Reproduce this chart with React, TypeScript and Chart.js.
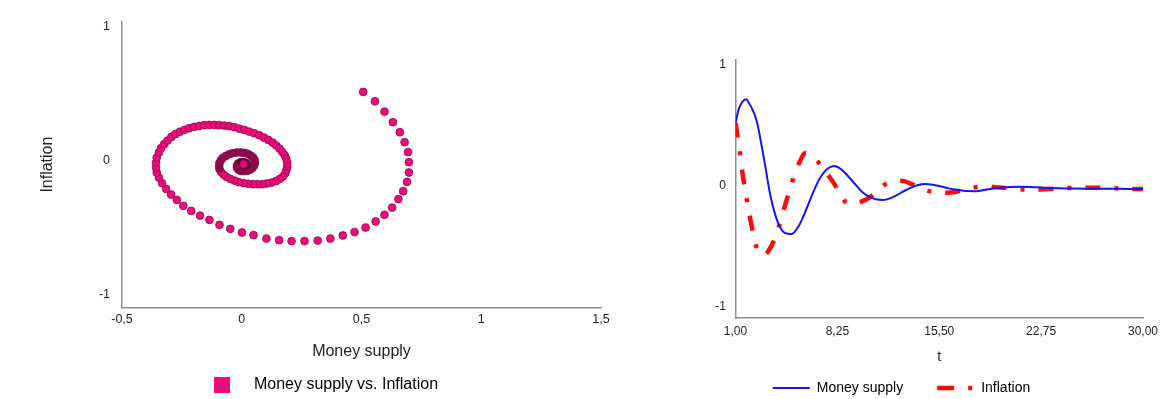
import React, { useEffect, useRef } from 'react';
import { Chart, registerables } from 'chart.js';

Chart.register(...registerables);

// ---------- Data ----------
// Phase plot (left): Money supply (x) vs. Inflation (y)
const spiralMoneySupply = [
  0.507, 0.556, 0.596, 0.631, 0.660, 0.680, 0.694, 0.698, 0.698, 0.690,
  0.674, 0.654, 0.628, 0.596, 0.559, 0.517, 0.471, 0.422, 0.370, 0.317,
  0.262, 0.208, 0.156, 0.103, 0.049, 0.001, -0.048, -0.093, -0.135, -0.174,
  -0.211, -0.244, -0.271, -0.295, -0.316, -0.333, -0.346, -0.355, -0.358, -0.358,
  -0.355, -0.346, -0.337, -0.324, -0.310, -0.294, -0.277, -0.259, -0.239, -0.220,
  -0.199, -0.178, -0.157, -0.136, -0.115, -0.094, -0.073, -0.052, -0.031, -0.010,
  0.010, 0.031, 0.052, 0.073, 0.093, 0.111, 0.129, 0.144, 0.158, 0.169,
  0.179, 0.186, 0.190, 0.190, 0.187, 0.182, 0.172, 0.158, 0.143, 0.125,
  0.105, 0.086, 0.066, 0.047, 0.027, 0.008, -0.012, -0.030, -0.048, -0.064,
  -0.076, -0.087, -0.093, -0.094, -0.093, -0.087, -0.079, -0.066, -0.052, -0.037,
  -0.020, -0.003, 0.012, 0.026, 0.038, 0.048, 0.054, 0.055, 0.052, 0.045,
  0.036, 0.023, 0.009, -0.003, -0.013, -0.020, -0.020, -0.015, -0.005, 0.006,
  0.016, 0.022, 0.018, 0.010, 0.004, 0.006, 0.008,
];
const spiralInflation = [
  0.512, 0.442, 0.365, 0.286, 0.211, 0.137, 0.063, -0.012, -0.089, -0.159,
  -0.228, -0.287, -0.350, -0.404, -0.454, -0.499, -0.533, -0.558, -0.581, -0.596,
  -0.600, -0.600, -0.593, -0.581, -0.555, -0.536, -0.509, -0.479, -0.442, -0.410,
  -0.375, -0.337, -0.293, -0.253, -0.211, -0.168, -0.127, -0.089, -0.052, -0.015,
  0.022, 0.060, 0.092, 0.122, 0.149, 0.176, 0.197, 0.214, 0.229, 0.241,
  0.251, 0.258, 0.264, 0.266, 0.266, 0.264, 0.261, 0.256, 0.249, 0.238,
  0.229, 0.216, 0.204, 0.189, 0.171, 0.154, 0.134, 0.112, 0.089, 0.065,
  0.040, 0.013, -0.015, -0.045, -0.069, -0.094, -0.119, -0.138, -0.153, -0.164,
  -0.171, -0.176, -0.176, -0.176, -0.173, -0.168, -0.161, -0.149, -0.136, -0.121,
  -0.104, -0.084, -0.062, -0.039, -0.017, 0.003, 0.020, 0.035, 0.048, 0.055,
  0.060, 0.060, 0.057, 0.050, 0.037, 0.022, 0.003, -0.017, -0.037, -0.054,
  -0.067, -0.077, -0.079, -0.077, -0.069, -0.054, -0.037, -0.022, -0.012, -0.010,
  -0.015, -0.025, -0.034, -0.038, -0.033, -0.027, -0.027,
];

// Time series (right)
const tValues = [
  1, 1.25, 1.5, 1.75, 2, 2.5, 3, 3.5, 4, 4.5, 5, 5.5, 6, 6.5, 7, 7.5, 8, 8.5, 9, 9.5, 10, 10.5,
  11, 11.5, 12, 12.5, 13, 13.5, 14, 14.5, 15, 15.5, 16, 16.5, 17, 17.5, 18, 18.5, 19, 19.5, 20,
  21, 22, 23, 24, 25, 26, 27, 28, 29, 30,
];
const moneySupplySeries = [
  0.52, 0.64, 0.695, 0.716, 0.675, 0.54, 0.24, -0.09, -0.30, -0.39, -0.40, -0.334,
  -0.207, -0.063, 0.061, 0.136, 0.163, 0.138, 0.080, 0.014, -0.05, -0.091,
  -0.113, -0.118, -0.105, -0.077, -0.044, -0.016, 0.006, 0.014, 0.008, -0.003,
  -0.017, -0.030, -0.038, -0.045, -0.046, -0.040, -0.030, -0.022, -0.015,
  -0.008, -0.010, -0.017, -0.022, -0.024, -0.025, -0.025, -0.026, -0.027, -0.027,
];
const inflationSeries = [
  0.52, 0.33, 0.10, -0.08, -0.245, -0.51, -0.575, -0.51, -0.37, -0.174, 0.02, 0.18,
  0.27, 0.24, 0.18, 0.10, 0.02, -0.08, -0.15, -0.145, -0.13, -0.10,
  -0.055, 0.0, 0.03, 0.042, 0.038, 0.015, -0.01, -0.035, -0.05, -0.056,
  -0.058, -0.055, -0.04, -0.028, -0.015, -0.008, -0.008, -0.012, -0.017,
  -0.028, -0.035, -0.030, -0.025, -0.018, -0.017, -0.017, -0.022, -0.027, -0.027,
];

// Tick labels
const leftXTicks = [-0.5, 0, 0.5, 1, 1.5];
const yTicks = [-1, 0, 1];
const rightXTicks = [1, 8.25, 15.5, 22.75, 30];

// ---------- Styles ----------
const FONT = '"Liberation Sans", Arial, Helvetica, sans-serif';
const PINK = '#ee0a7c';
const PINK_BORDER = '#8a0a44';
const INNER_DARK = '#8c0a4c';
const CORE_DARK = '#3a0018';
const BLUE = '#1414f0';
const RED = '#ff0a0a';
const AXIS = '#8c8c8c';
const TEXT = '#222222';

const commaNum = (v: number, digits?: number) =>
  (digits === undefined ? String(v) : v.toFixed(digits)).replace('.', ',');

export default function App() {
  const leftRef = useRef<HTMLCanvasElement>(null);
  const rightRef = useRef<HTMLCanvasElement>(null);

  useEffect(() => {
    Chart.defaults.font.family = FONT;

    // legend marker for scatter: square with trailing blank space
    const sq = document.createElement('canvas');
    sq.width = 32;
    sq.height = 16;
    const sctx = sq.getContext('2d');
    if (sctx) {
      sctx.fillStyle = PINK;
      sctx.fillRect(0, 0, 16, 16);
    }

    const n = spiralMoneySupply.length;
    const left = new Chart(leftRef.current as HTMLCanvasElement, {
      type: 'scatter',
      data: {
        datasets: [
          {
            label: 'Money supply vs. Inflation',
            data: spiralMoneySupply.map((x, i) => ({ x, y: spiralInflation[i] })),
            pointRadius: 3.9,
            pointBorderWidth: 0.8,
            pointBorderColor: PINK_BORDER,
            pointBackgroundColor: (c: any) => {
              const i = c.dataIndex;
              if (i === n - 1) return PINK;
              if (i >= 118) return CORE_DARK;
              if (i >= 92) return INNER_DARK;
              return PINK;
            },
            showLine: false,
          } as any,
        ],
      },
      options: {
        animation: false,
        responsive: false,
        events: [],
        layout: { padding: { top: 21.7, right: 0, left: 0, bottom: 0 } },
        plugins: {
          tooltip: { enabled: false },
          legend: {
            position: 'bottom',
            labels: {
              usePointStyle: true,
              pointStyleWidth: 32,
              padding: 10,
              color: TEXT,
              font: { size: 16, family: FONT },
              generateLabels: () => [
                {
                  text: 'Money supply vs. Inflation',
                  fillStyle: PINK,
                  strokeStyle: PINK,
                  lineWidth: 0,
                  pointStyle: sq as any,
                  hidden: false,
                  datasetIndex: 0,
                } as any,
              ],
            },
          },
        },
        scales: {
          x: {
            type: 'linear',
            min: -0.5,
            max: 1.5,
            afterBuildTicks: (s: any) => {
              s.ticks = leftXTicks.map((v) => ({ value: v }));
            },
            afterFit: (s: any) => {
              s.height = 59.5;
              s.paddingRight = 51;
            },
            grid: { display: false, drawTicks: false },
            border: { display: true, color: AXIS, width: 1.5 },
            ticks: {
              padding: 5,
              color: TEXT,
              font: { size: 12.5, family: FONT },
              maxRotation: 0,
              autoSkip: false,
              callback: (v: any) => commaNum(Number(v)),
            },
            title: {
              display: true,
              text: 'Money supply',
              color: TEXT,
              font: { size: 16, family: FONT },
              padding: { top: 0, bottom: 6 },
            },
          },
          y: {
            type: 'linear',
            min: -1.095,
            max: 1.035,
            afterBuildTicks: (s: any) => {
              s.ticks = yTicks.map((v) => ({ value: v }));
            },
            afterFit: (s: any) => {
              s.width = 122;
            },
            grid: { display: false, drawTicks: false },
            border: { display: true, color: AXIS, width: 1.5 },
            ticks: {
              padding: 12,
              color: TEXT,
              font: { size: 12.5, family: FONT },
              callback: (v: any) => String(v),
            },
            title: {
              display: true,
              text: 'Inflation',
              color: TEXT,
              font: { size: 16, family: FONT },
              padding: { top: 37.9, bottom: 0 },
            },
          },
        },
      },
    } as any);

    const right = new Chart(rightRef.current as HTMLCanvasElement, {
      type: 'line',
      data: {
        datasets: [
          {
            label: 'Money supply',
            data: tValues.map((t, i) => ({ x: t, y: moneySupplySeries[i] })),
            borderColor: BLUE,
            backgroundColor: BLUE,
            borderWidth: 2,
            pointRadius: 0,
            cubicInterpolationMode: 'monotone',
            fill: false,
          },
          {
            label: 'Inflation',
            data: tValues.map((t, i) => ({ x: t, y: inflationSeries[i] })),
            borderColor: RED,
            backgroundColor: RED,
            borderWidth: 4.5,
            borderDash: [15, 14, 4, 14],
            pointRadius: 0,
            cubicInterpolationMode: 'monotone',
            fill: false,
          },
        ],
      },
      options: {
        animation: false,
        responsive: false,
        events: [],
        layout: { padding: { top: 60, right: 0, left: 0, bottom: 0 } },
        plugins: {
          tooltip: { enabled: false },
          legend: {
            position: 'bottom',
            labels: {
              usePointStyle: true,
              pointStyle: 'line',
              pointStyleWidth: 37,
              padding: 34,
              color: TEXT,
              font: { size: 14, family: FONT },
              generateLabels: () => [
                {
                  text: 'Money supply',
                  fillStyle: BLUE,
                  strokeStyle: BLUE,
                  lineWidth: 2,
                  pointStyle: 'line',
                  hidden: false,
                  datasetIndex: 0,
                } as any,
                {
                  text: 'Inflation',
                  fillStyle: RED,
                  strokeStyle: RED,
                  lineWidth: 4.5,
                  lineDash: [17, 14, 4, 2],
                  lineDashOffset: 0,
                  pointStyle: 'line',
                  hidden: false,
                  datasetIndex: 1,
                } as any,
              ],
            },
          },
        },
        scales: {
          x: {
            type: 'linear',
            min: 1,
            max: 30,
            afterBuildTicks: (s: any) => {
              s.ticks = rightXTicks.map((v) => ({ value: v }));
            },
            afterFit: (s: any) => {
              s.height = 29;
              s.paddingRight = 17;
            },
            grid: { display: false, drawTicks: false },
            border: { display: true, color: AXIS, width: 1.5 },
            ticks: {
              padding: 6,
              color: TEXT,
              font: { size: 12, family: FONT },
              maxRotation: 0,
              autoSkip: false,
              callback: (v: any) => commaNum(Number(v), 2),
            },
            title: {
              display: true,
              text: 't',
              color: TEXT,
              font: { size: 14, family: FONT },
              padding: { top: 0, bottom: -18.1 },
            },
          },
          y: {
            type: 'linear',
            min: -1.095,
            max: 1.04,
            afterBuildTicks: (s: any) => {
              s.ticks = yTicks.map((v) => ({ value: v }));
            },
            afterFit: (s: any) => {
              s.width = 92.5;
            },
            grid: { display: false, drawTicks: false },
            border: { display: true, color: AXIS, width: 1.5 },
            ticks: {
              padding: 9.5,
              color: TEXT,
              font: { size: 12, family: FONT },
              callback: (v: any) => String(v),
            },
          },
        },
      },
    } as any);

    return () => {
      left.destroy();
      right.destroy();
    };
  }, []);

  return (
    <div
      style={{
        position: 'fixed',
        left: 0,
        top: 0,
        width: 1160,
        height: 399,
        overflow: 'hidden',
        background: '#ffffff',
      }}
    >
      <canvas
        ref={leftRef}
        width={652}
        height={403}
        style={{ position: 'absolute', left: 0, top: 0, width: 652, height: 403 }}
      />
      <canvas
        ref={rightRef}
        width={517}
        height={405}
        style={{ position: 'absolute', left: 643, top: 0, width: 517, height: 405 }}
      />
    </div>
  );
}
